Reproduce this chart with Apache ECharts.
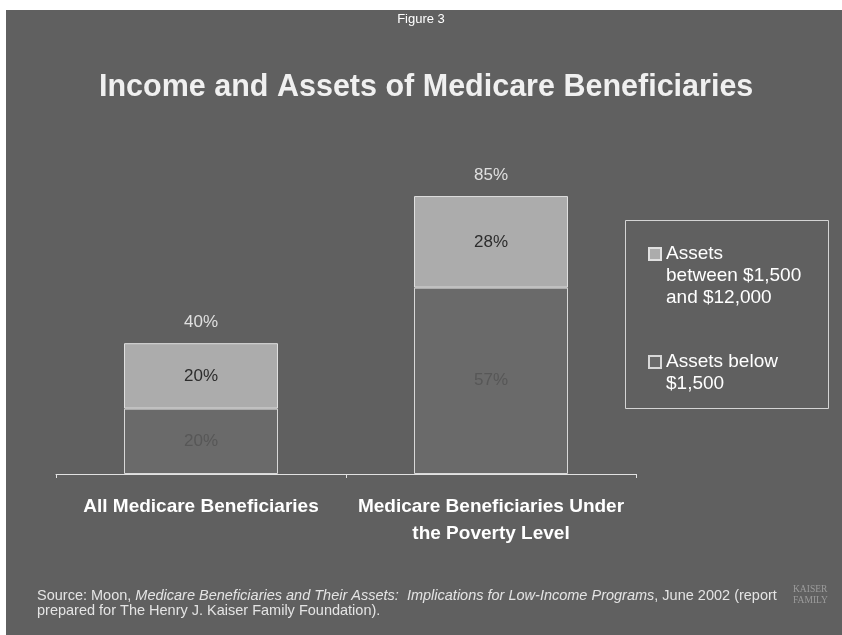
<!DOCTYPE html>
<html>
<head>
<meta charset="utf-8">
<script src="https://cdn.jsdelivr.net/npm/echarts@6/dist/echarts.min.js"></script>
<style>
  html, body { margin: 0; padding: 0; background: #ffffff; }
  #chart { width: 842px; height: 635px; }
</style>
</head>
<body>
<div id="chart"></div>
<script>
// Share of Medicare beneficiaries by asset level (percent)
const categories = ['All Medicare Beneficiaries', 'Medicare Beneficiaries Under\nthe Poverty Level'];
const seriesNames = ['Assets between $1,500 and $12,000', 'Assets below $1,500'];
const legendLabels = ['Assets\nbetween $1,500\nand $12,000', 'Assets below\n$1,500'];
const assetsBelow1500 = [20, 57];
const assets1500to12000 = [20, 28];
const totals = categories.map((_, i) => assetsBelow1500[i] + assets1500to12000[i]);

const FONT = '"Liberation Sans", Arial, Helvetica, sans-serif';
const pct = p => p.value + '%';

// Legend swatches: a 12px square placed beside the first text line of a 66px tall item
const LEGEND_ITEM_H = 66;
const swatch = top => 'path://M0,0M0,' + top + 'h12v12h-12zM0,' + LEGEND_ITEM_H;

const chart = echarts.init(document.getElementById('chart'), null, { renderer: 'canvas' });

chart.setOption({
  animation: false,
  backgroundColor: '#ffffff',
  graphic: [
    // slide panel
    { type: 'rect', z: -10, silent: true,
      shape: { x: 6, y: 10, width: 836, height: 625 },
      style: { fill: '#606060' } },
    // frame around the legend
    { type: 'rect', z: 1, silent: true,
      shape: { x: 625.5, y: 220.5, width: 203, height: 188 },
      style: { fill: 'none', stroke: '#d4d4d4', lineWidth: 1 } }
  ],
  title: [
    { text: 'Figure 3', left: 'center', top: 13, padding: 0,
      textStyle: { color: '#ffffff', fontSize: 13, fontWeight: 'normal', fontFamily: FONT } },
    { text: 'Income and Assets of Medicare Beneficiaries', left: 99, top: 72, padding: 0,
      textStyle: { color: '#f0f0f0', fontSize: 30.5, fontWeight: 'bold', fontFamily: FONT } },
    { text: 'Source: Moon, {i|Medicare Beneficiaries and Their Assets:  Implications for Low-Income Programs}, June 2002 (report\nprepared for The Henry J. Kaiser Family Foundation).',
      left: 37, top: 588, padding: 0,
      textStyle: { color: '#e4e4e4', fontSize: 14.5, fontWeight: 'normal', fontFamily: FONT, lineHeight: 15,
        rich: { i: { fontStyle: 'italic', fontSize: 14.5, color: '#e4e4e4', fontFamily: FONT, lineHeight: 15 } } } },
    { text: 'KAISER\nFAMILY', left: 793, top: 584, padding: 0,
      textStyle: { color: '#9c9c9c', fontSize: 9.5, fontWeight: 'normal', lineHeight: 11,
        fontFamily: '"Liberation Serif", "DejaVu Serif", serif' } }
  ],
  legend: {
    orient: 'vertical',
    left: 648,
    top: 242,
    padding: 0,
    itemGap: 29,
    itemWidth: 12,
    itemHeight: LEGEND_ITEM_H,
    data: [
      { name: seriesNames[0], icon: swatch(5) },
      { name: seriesNames[1], icon: swatch(16) }
    ],
    formatter: name => legendLabels[seriesNames.indexOf(name)],
    textStyle: { color: '#ffffff', fontSize: 19, lineHeight: 22, fontFamily: FONT }
  },
  grid: { left: 56, right: 206, top: 147, bottom: 161 },
  xAxis: {
    type: 'category',
    data: categories,
    axisLine: { lineStyle: { color: '#e2e2e2', width: 1 } },
    axisTick: { show: true, length: 4, lineStyle: { color: '#e2e2e2' } },
    axisLabel: { color: '#ffffff', fontSize: 19, fontWeight: 'bold', fontFamily: FONT,
      margin: 19, lineHeight: 27, interval: 0 }
  },
  yAxis: { type: 'value', min: 0, max: 100, show: false, splitLine: { show: false } },
  series: [
    { name: seriesNames[1], type: 'bar', stack: 'assets', barWidth: 154,
      data: assetsBelow1500,
      itemStyle: { color: '#6a6a6a', borderColor: '#d8d8d8', borderWidth: 1 },
      label: { show: true, position: 'inside', color: '#575757', fontSize: 17, fontFamily: FONT, formatter: pct } },
    { name: seriesNames[0], type: 'bar', stack: 'assets', barWidth: 154,
      data: assets1500to12000,
      itemStyle: { color: '#acacac', borderColor: '#e0e0e0', borderWidth: 1 },
      label: { show: true, position: 'inside', color: '#2c2c2c', fontSize: 17, fontFamily: FONT, formatter: pct } },
    { name: 'Total', type: 'scatter', data: totals, symbolSize: 0, silent: true,
      label: { show: true, position: 'top', distance: 12, color: '#ffffff', fontSize: 17, fontFamily: FONT, formatter: pct } }
  ]
});
</script>
</body>
</html>
